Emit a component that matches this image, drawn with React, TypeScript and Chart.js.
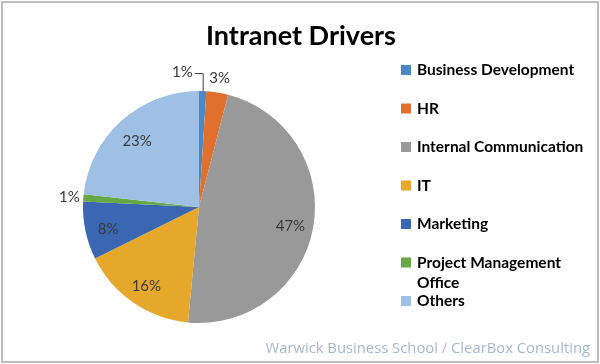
import React, { useEffect, useRef } from "react";
import { Chart, registerables } from "chart.js";

Chart.register(...registerables);

const categories = [
  "Business Development",
  "HR",
  "Internal Communication",
  "IT",
  "Marketing",
  "Project Management Office",
  "Others",
];
const values = [1, 3, 47, 16, 8, 1, 23];
const valueLabels = ["1%", "3%", "47%", "16%", "8%", "1%", "23%"];
const colors = ["#4a89c8", "#e0702c", "#999999", "#e5a82a", "#3a66b2", "#66a844", "#9dc0e4"];
const titleText = "Intranet Drivers";
const footerText = "Warwick Business School / ClearBox Consulting";

const FONT = "Lato, 'Open Sans', sans-serif";

const decorPlugin = {
  id: "decor",
  beforeDraw(chart: any) {
    const ctx = chart.ctx;
    const { width, height } = chart;
    ctx.save();
    ctx.fillStyle = "#ffffff";
    ctx.fillRect(0, 0, width, height);
    ctx.strokeStyle = "#bdbdbd";
    ctx.lineWidth = 2;
    ctx.strokeRect(2, 2, width - 4, height - 4);
    // title
    ctx.fillStyle = "#000000";
    ctx.font = `bold 27px ${FONT}`;
    ctx.textAlign = "center";
    ctx.textBaseline = "alphabetic";
    ctx.fillText(titleText, 301, 45);
    // footer
    ctx.fillStyle = "#a9b7ca";
    ctx.font = `14.8px 'Open Sans', sans-serif`;
    ctx.textAlign = "right";
    ctx.fillText(footerText, 590, 353);
    ctx.restore();
  },
  afterDraw(chart: any) {
    const ctx = chart.ctx;
    ctx.save();
    // legend
    const markX = 401;
    const textX = 417;
    const startY = 70;
    const step = 38.5;
    const maxW = 172;
    ctx.font = `bold 15.5px ${FONT}`;
    ctx.textBaseline = "middle";
    ctx.textAlign = "left";
    categories.forEach((label, i) => {
      const y = startY + i * step;
      ctx.fillStyle = colors[i];
      ctx.fillRect(markX, y - 5, 10, 10);
      ctx.fillStyle = "#000000";
      const words = label.split(" ");
      const lines: string[] = [];
      let cur = "";
      words.forEach((w) => {
        const test = cur ? cur + " " + w : w;
        if (ctx.measureText(test).width > maxW && cur) {
          lines.push(cur);
          cur = w;
        } else cur = test;
      });
      if (cur) lines.push(cur);
      lines.forEach((ln, k) => ctx.fillText(ln, textX, y + k * 20));
    });
    ctx.restore();
  },
};

const labelPlugin = {
  id: "sliceLabels",
  afterDatasetsDraw(chart: any) {
    const ctx = chart.ctx;
    const meta = chart.getDatasetMeta(0);
    ctx.save();
    ctx.font = `15px ${FONT}`;
    ctx.fillStyle = "#3a3a3a";
    ctx.textBaseline = "middle";
    meta.data.forEach((arc: any, i: number) => {
      const { x, y, startAngle, endAngle, outerRadius } = arc.getProps(
        ["x", "y", "startAngle", "endAngle", "outerRadius"],
        true
      );
      const mid = (startAngle + endAngle) / 2;
      const frac = values[i] / values.reduce((a, b) => a + b, 0);
      if (i === 0) {
        // leader-line label
        const ex = x + outerRadius * Math.cos(mid);
        const ey = y + outerRadius * Math.sin(mid);
        ctx.strokeStyle = "#404040";
        ctx.lineWidth = 1;
        ctx.beginPath();
        ctx.moveTo(ex + 0.5, ey);
        ctx.lineTo(ex + 0.5, ey - 17.5);
        ctx.lineTo(ex - 8, ey - 17.5);
        ctx.stroke();
        ctx.textAlign = "right";
        ctx.fillText(valueLabels[i], ex - 10, ey - 19);
      } else if (frac < 0.05) {
        const r = outerRadius + 14;
        ctx.textAlign = "center";
        ctx.fillText(valueLabels[i], x + r * Math.cos(mid), y + r * Math.sin(mid));
      } else {
        const r = outerRadius * 0.8;
        ctx.textAlign = "center";
        ctx.fillText(valueLabels[i], x + r * Math.cos(mid), y + r * Math.sin(mid) + 3);
      }
    });
    ctx.restore();
  },
};

export default function App() {
  const ref = useRef<HTMLCanvasElement>(null);
  useEffect(() => {
    document.body.style.margin = "0";
    const chart = new Chart(ref.current!, {
      type: "pie",
      data: {
        labels: categories,
        datasets: [
          {
            data: values,
            backgroundColor: colors,
            borderWidth: 0,
          },
        ],
      },
      options: {
        responsive: false,
        animation: false,
        layout: { padding: { left: 83, right: 285, top: 91, bottom: 41 } },
        plugins: {
          legend: { display: false },
          title: { display: false },
          tooltip: { enabled: false },
        },
      },
      plugins: [decorPlugin, labelPlugin],
    });
    return () => chart.destroy();
  }, []);
  return <canvas ref={ref} width={600} height={364} style={{ display: "block" }} />;
}
